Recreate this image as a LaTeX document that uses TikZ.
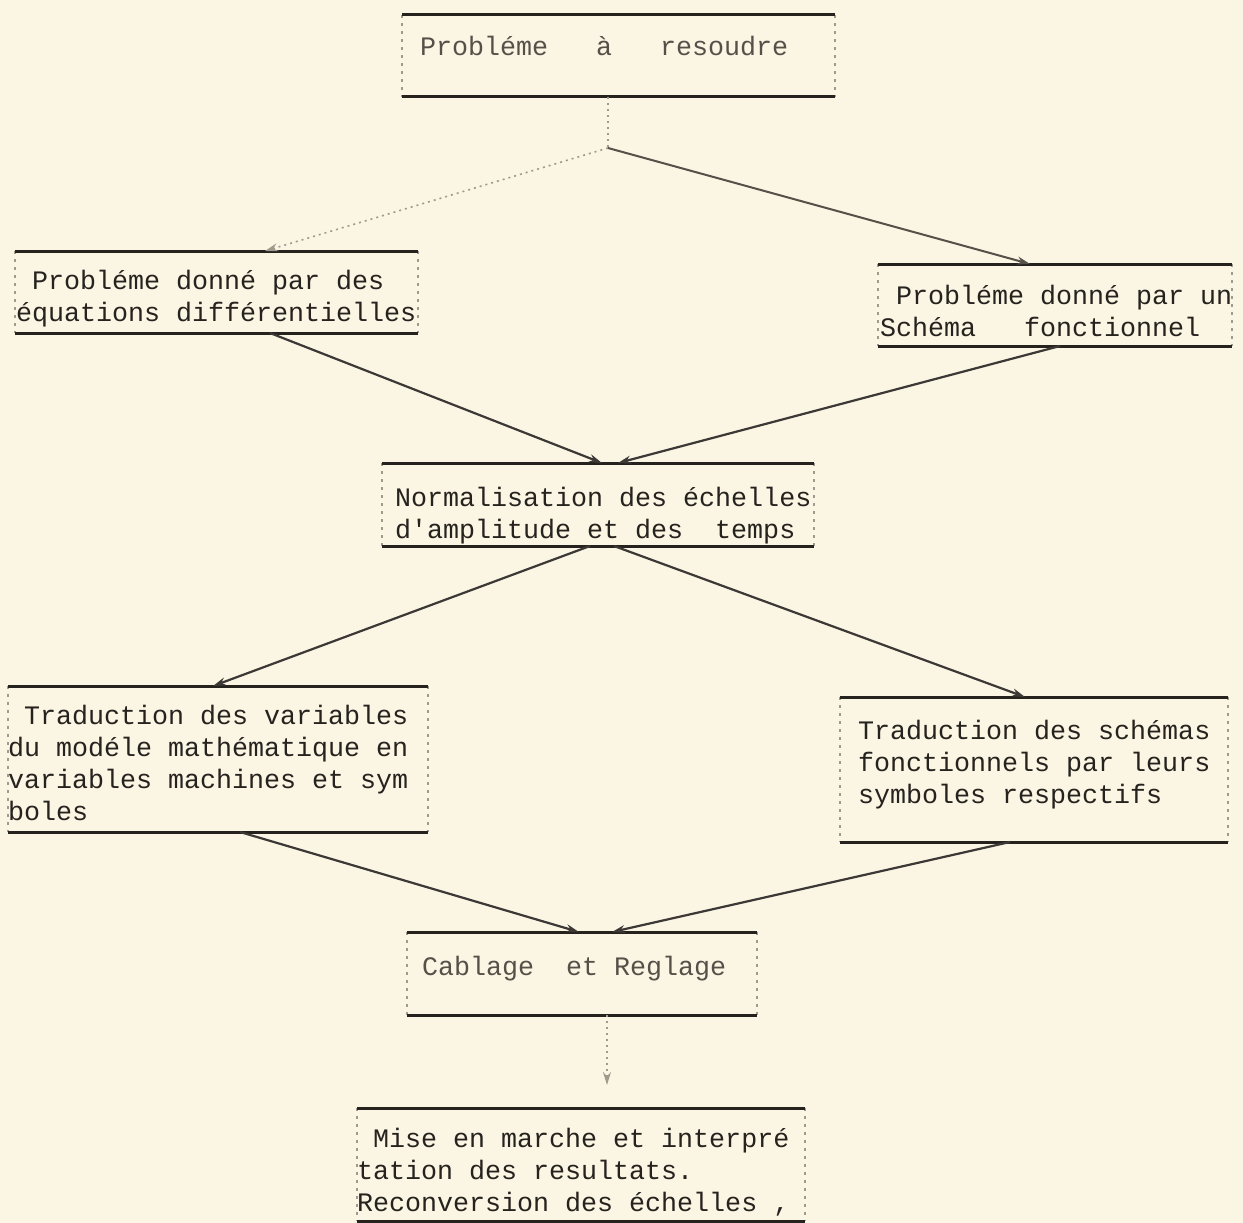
\documentclass[tikz,border=0pt]{standalone}
\usepackage{fontspec}
\newfontfamily\tw[Ligatures=TeXOff]{Liberation Mono}
\usetikzlibrary{arrows.meta,calc}
\definecolor{paper}{RGB}{251,246,228}
\definecolor{ink}{RGB}{38,34,30}
\definecolor{inkl}{RGB}{85,80,72}
\definecolor{faint}{RGB}{160,154,142}
\newcommand\lead{\hspace*{0.6em}}
\tikzset{
  frame/.style={draw=none, inner sep=0pt, outer sep=0pt},
  txt/.style={font={\tw\fontsize{26.67pt}{32pt}\selectfont}, text=ink, align=left, inner sep=0pt, anchor=base west},
  rule/.style={draw=ink, line width=3pt},
  side/.style={draw=faint, line width=1.2pt, dash pattern=on 3pt off 5pt},
  conn/.style={draw=ink!90, line width=2.2pt, -{Stealth[length=13pt,width=8pt]}},
  lightconn/.style={draw=faint, line width=1.6pt, dash pattern=on 2pt off 4pt},
  greyconn/.style={draw=inkl, line width=2pt, -{Stealth[length=13pt,width=8pt]}},
}
\begin{document}
\begin{tikzpicture}[x=1pt,y=-1pt]
\fill[paper] (0,0) rectangle (1243,1223);
\useasboundingbox (0,0) rectangle (1243,1223);

% frames
\node[frame, minimum width=433pt, minimum height=82pt]  (f1) at (618.5,56) {};
\node[frame, minimum width=403pt, minimum height=82pt]  (f2) at (216.5,292) {};
\node[frame, minimum width=354pt, minimum height=82pt]  (f3) at (1055,305) {};
\node[frame, minimum width=432pt, minimum height=83pt]  (f4) at (598,504.5) {};
\node[frame, minimum width=420pt, minimum height=146pt] (f5) at (218,759) {};
\node[frame, minimum width=388pt, minimum height=145pt] (f6) at (1034,769.5) {};
\node[frame, minimum width=350pt, minimum height=83pt]  (f7) at (582,973.5) {};
\node[frame, minimum width=448pt, minimum height=113pt] (f8) at (581,1164.5) {};

\foreach \f in {f1,f2,f3,f4,f5,f6,f7,f8}{
  \draw[side] (\f.north west) -- (\f.south west);
  \draw[side] (\f.north east) -- (\f.south east);
  \draw[rule] (\f.north west) -- (\f.north east);
  \draw[rule] (\f.south west) -- (\f.south east);
}

% texts (anchor = baseline of the last line)
\node[txt, text=inkl] (t1) at (420,56) {Probléme\ \ \ à\ \ \ resoudre};
\node[txt] (t2) at (16,321) {\lead Probléme donné par des\\équations différentielles};
\node[txt] (t3) at (880,336) {\lead Probléme donné par un\\Schéma\ \ \ fonctionnel};
\node[txt] (t4) at (395,538) {Normalisation des échelles\\d'amplitude et des\ \ temps};
\node[txt] (t5) at (8,820) {\lead Traduction des variables\\du modéle mathématique en\\variables machines et sym\\boles};
\node[txt] (t6) at (858,803) {Traduction des schémas\\fonctionnels par leurs\\symboles respectifs};
\node[txt, text=inkl] (t7) at (422,975) {Cablage\ \ et Reglage};
\node[txt] (t8) at (357,1211) {\lead Mise en marche et interpré\\tation des resultats.\\Reconversion des échelles ,};

% connectors
\coordinate (s) at (608,148);
\draw[lightconn] (s |- f1.south) -- (s);
\draw[lightconn, -{Stealth[length=13pt,width=8pt]}] (s) -- ([xshift=250pt]f2.north west);
\draw[greyconn] (s) -- ([xshift=152pt]f3.north west);
\draw[conn] ([xshift=255pt]f2.south west) -- ([xshift=220pt]f4.north west);
\draw[conn] ([xshift=182pt]f3.south west) -- ([xshift=236pt]f4.north west);
\draw[conn] ([xshift=208pt]f4.south west) -- ([xshift=205pt]f5.north west);
\draw[conn] ([xshift=232pt]f4.south west) -- ([xshift=185pt]f6.north west);
\draw[conn] ([xshift=232pt]f5.south west) -- ([xshift=172pt]f7.north west);
\draw[conn] ([xshift=170pt]f6.south west) -- ([xshift=205pt]f7.north west);
\coordinate (e8) at ([xshift=250pt,yshift=23pt]f8.north west);
\draw[lightconn, -{Stealth[length=13pt,width=8pt]}] ([xshift=200pt]f7.south west) -- (e8);
\end{tikzpicture}
\end{document}
